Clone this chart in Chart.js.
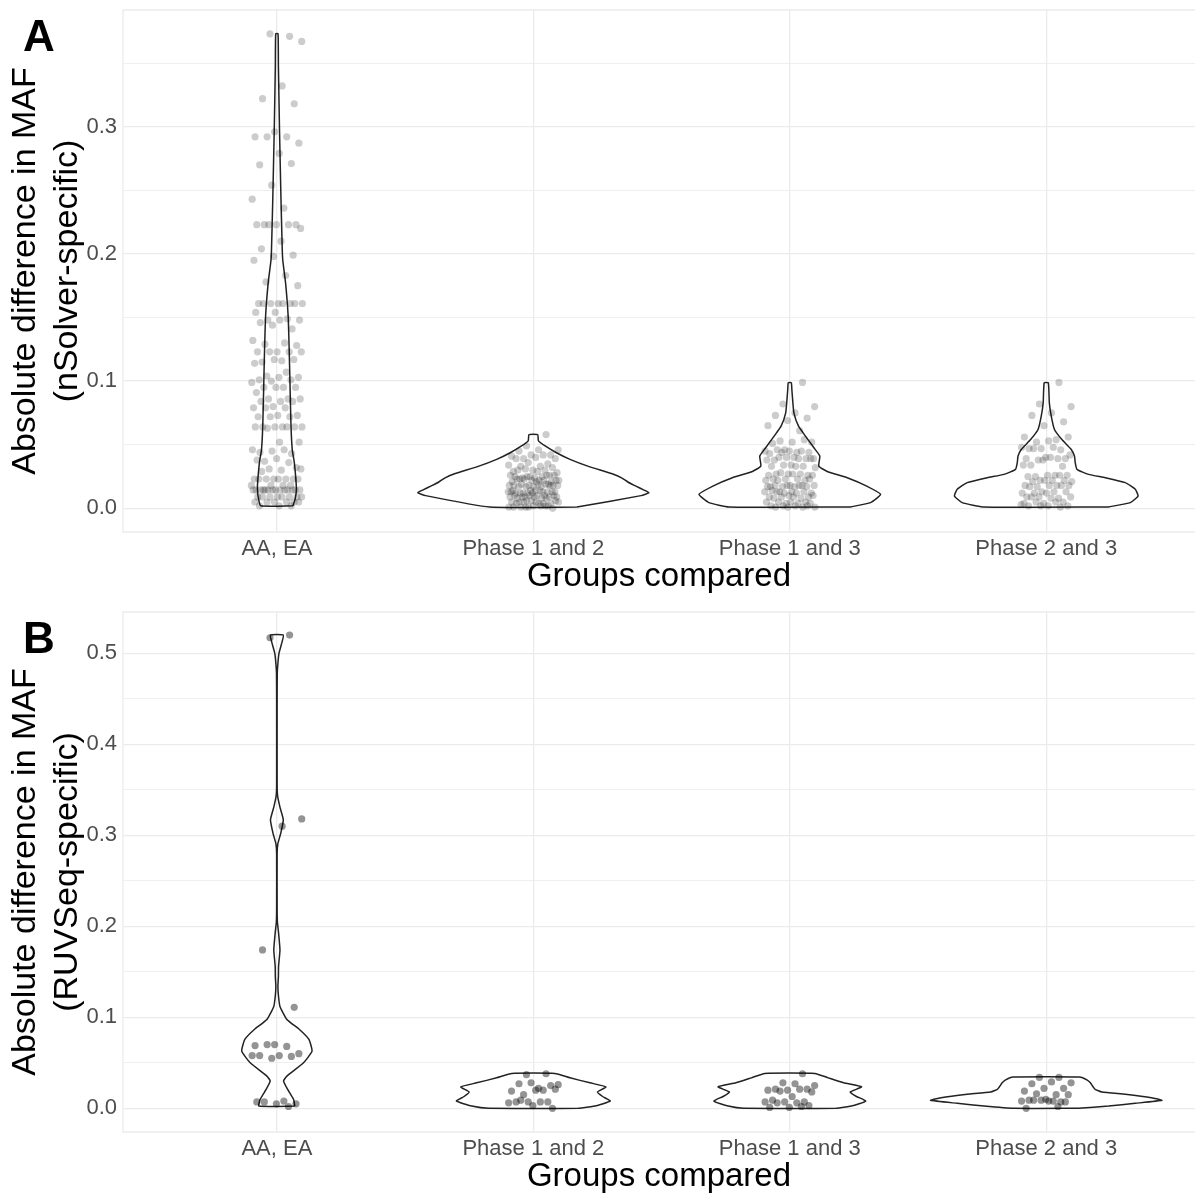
<!DOCTYPE html>
<html>
<head>
<meta charset="utf-8">
<script src="https://cdn.jsdelivr.net/npm/chart.js@4.4.1/dist/chart.umd.min.js"></script>
<style>
  body { margin:0; background:#fff; width:1195px; height:1197px; position:relative; overflow:hidden;
         font-family:"Liberation Sans", Arial, sans-serif; }
  .panel { position:absolute; left:0; width:1195px; height:598px; }
  .tag { position:absolute; left:23px; font-weight:bold; font-size:44px; line-height:44px; color:#000; }
</style>
</head>
<body>
<div class="panel" style="top:0"><canvas id="chartA" width="1195" height="598"></canvas></div>
<div class="panel" style="top:600px"><canvas id="chartB" width="1195" height="598"></canvas></div>
<div class="tag" style="top:14px">A</div>
<div class="tag" style="top:616px">B</div>
<script>
// categories and axis ticks
const categories = ['AA, EA', 'Phase 1 and 2', 'Phase 1 and 3', 'Phase 2 and 3'];
const yTicksA = [0, 0.1, 0.2, 0.3];
const yTicksB = [0, 0.1, 0.2, 0.3, 0.4, 0.5];
const yRangeA = [-0.0186, 0.3917];
const yRangeB = [-0.026, 0.5453];

// panel A jittered points (abs. difference in MAF, nSolver-specific)
const ptsA_aaea = [0.371,0.373,0.367,0.332,0.322,0.318,0.296,0.292,0.292,0.292,0.287,0.279,0.270,0.271,0.254,0.243,0.236,
  0.223,0.223,0.223,0.223,0.223,0.223,0.220,0.210,0.204,0.199,0.198,0.195,0.183,0.178,0.175,
  0.161,0.161,0.161,0.161,0.161,0.161,0.161,0.161,0.154,0.154,0.149,0.148,0.148,0.148,0.146,0.141,0.144,
  0.132,0.130,0.129,0.128,0.123,0.123,0.123,0.123,0.123,0.116,0.115,0.117,0.117,0.114,
  0.107,0.104,0.103,0.103,0.101,0.101,0.100,0.099,0.095,0.095,0.095,0.095,0.091,
  0.086,0.086,0.086,0.084,0.084,0.084,0.080,0.079,0.079,0.079,0.073,0.073,0.072,0.072,0.072,
  0.064,0.064,0.064,0.064,0.064,0.064,0.064,0.063,0.052,0.052,0.044,0.043,0.045,0.046,0.046,
  0.037,0.032,0.039,0.038,0.036,0.031,0.031,0.030,0.029,
  0.023,0.023,0.023,0.023,0.023,0.023,0.023,0.023,0.018,0.018,0.018,0.018,
  0.0145,0.0145,0.0145,0.0145,0.0145,0.0145,0.0145,0.0145,0.0145,0.0145,0.0145,0.0145,0.0145,0.0145,
  0.009,0.009,0.009,0.009,0.009,0.009,0.009,0.009,0.005,0.005,0.005,0.005,0.005,0.005,0.002,0.002,0.002];
const ptsA_p12 = [0.058,0.049,0.046,0.046,0.045,0.042,0.042,0.041,0.042,0.039,0.039,0.040,0.039,
  0.035,0.036,0.034,0.033,0.033,0.032,0.030,0.029,0.030,0.031,0.028,0.029,0.030,
  0.026,0.025,0.026,0.025,0.024,0.026,0.024,0.025,0.026,0.025,
  0.022,0.022,0.023,0.021,0.022,0.021,0.022,0.023,0.022,0.021,0.023,
  0.019,0.018,0.018,0.017,0.019,0.018,0.017,0.018,0.019,0.017,0.018,0.019,0.017,0.018,
  0.014,0.013,0.013,0.012,0.013,0.014,0.012,0.013,0.012,0.013,0.014,0.012,0.013,0.012,0.014,
  0.010,0.009,0.009,0.010,0.008,0.009,0.010,0.009,0.008,0.009,0.010,0.009,0.010,0.008,
  0.006,0.005,0.004,0.005,0.004,0.006,0.005,0.004,0.005,0.006,0.005,0.004,
  0.002,0.001,0.001,0.002,0.001,0.000,0.002,0.001,0.002,0.001];
const ptsA_p13 = [0.099,0.082,0.080,0.075,0.073,0.071,0.069,0.065,0.061,0.053,0.052,0.052,0.051,0.054,
  0.046,0.045,0.044,0.046,0.044,0.045,0.043,0.045,0.044,0.039,0.040,0.038,0.039,0.040,0.038,0.039,0.040,0.039,
  0.034,0.033,0.033,0.034,0.032,0.033,0.027,0.026,0.027,0.026,0.027,0.028,0.026,0.027,
  0.023,0.022,0.023,0.022,0.023,0.022,0.023,0.018,0.017,0.018,0.017,0.018,0.017,0.018,0.017,0.018,0.017,0.018,
  0.013,0.012,0.013,0.014,0.013,0.012,0.013,0.012,0.013,0.009,0.010,0.009,0.008,0.009,0.010,0.009,0.008,
  0.005,0.004,0.005,0.004,0.005,0.004,0.005,0.002,0.001,0.002,0.001,0.002,0.001,0.002,0.001];
const ptsA_p23 = [0.099,0.082,0.080,0.075,0.073,0.068,0.065,0.056,0.054,0.052,0.056,0.053,
  0.047,0.046,0.047,0.048,0.048,0.047,0.039,0.040,0.039,0.039,0.038,0.042,0.040,0.034,0.033,0.038,0.034,
  0.026,0.025,0.026,0.026,0.025,0.026,0.022,0.021,0.022,0.021,0.022,0.022,
  0.018,0.018,0.017,0.018,0.018,0.017,0.018,0.013,0.012,0.013,0.012,0.013,0.012,
  0.009,0.008,0.009,0.009,0.008,0.009,0.005,0.004,0.004,0.005,0.005,0.002,0.002,0.002,0.001,0.002,0.003];

// panel B jittered points (abs. difference in MAF, RUVSeq-specific)
const ptsB_aaea = [0.520,0.517,0.318,0.310,0.174,0.111,0.070,0.069,0.068,0.070,0.060,0.058,0.058,0.057,0.055,0.058,
  0.008,0.007,0.005,0.005,0.007,0.002];
const ptsB_p12 = [0.038,0.037,0.026,0.022,0.027,0.025,0.028,0.019,0.020,0.015,0.021,0.020,0.007,0.007,0.007,0.006,
  0.007,0.009,0.000,0.003];
const ptsB_p13 = [0.038,0.028,0.025,0.027,0.021,0.021,0.020,0.020,0.021,0.019,0.018,0.013,0.009,0.007,0.007,0.007,
  0.006,0.006,0.003,0.001,0.001,0.002];
const ptsB_p23 = [0.034,0.034,0.028,0.029,0.027,0.022,0.022,0.019,0.015,0.016,0.015,0.008,0.009,0.007,0.009,0.008,
  0.008,0.009,0.007,0.010,0.000,0.002];

// violin profiles: density heights (y) and half widths (in category units)
const vA1Y = [0.002,0.008,0.015,0.023,0.036,0.046,0.065,0.099,0.125,0.151,0.177,0.195,0.203,0.243,0.295,0.347,0.373];
const vA1W = [0.063,0.072,0.076,0.074,0.068,0.060,0.055,0.051,0.048,0.044,0.034,0.023,0.021,0.016,0.0105,0.006,0.0045];
const vA2Y = [0.001,0.010,0.0123,0.0145,0.0175,0.0205,0.024,0.027,0.033,0.0385,0.0437,0.049,0.053,0.058];
const vA2W = [0.17,0.42,0.451,0.43,0.40,0.37,0.344,0.31,0.215,0.143,0.09,0.046,0.02,0.017];
const vA3Y = [0.0011,0.0045,0.011,0.0175,0.0241,0.029,0.0332,0.0411,0.0476,0.0568,0.0646,0.0751,0.0856,0.0934,0.0987];
const vA3W = [0.237,0.315,0.354,0.30,0.224,0.146,0.113,0.117,0.094,0.061,0.034,0.016,0.011,0.008,0.006];
const vA4Y = [0.0011,0.0045,0.0097,0.015,0.0202,0.0241,0.0267,0.0306,0.0359,0.0411,0.0463,0.0541,0.062,0.0725,0.0829,0.0987];
const vA4W = [0.243,0.328,0.358,0.347,0.308,0.23,0.165,0.12,0.113,0.11,0.0975,0.061,0.032,0.0195,0.012,0.008];

const vB1Y = [0.0025,0.0099,0.0208,0.030,0.0354,0.050,0.0628,0.0757,0.0866,0.0976,0.112,0.124,0.134,0.145,0.156,0.174,
  0.193,0.205,0.22,0.28,0.291,0.302,0.317,0.331,0.343,0.355,0.45,0.478,0.489,0.4996,0.509,0.520];
const vB1W = [0.07,0.065,0.042,0.026,0.039,0.104,0.137,0.125,0.088,0.039,0.012,0.006,0.004,0.006,0.0065,0.012,
  0.0065,0.002,0.001,0.001,0.004,0.015,0.025,0.012,0.003,0.001,0.001,0.0015,0.004,0.008,0.017,0.025];
const vB2Y = [0.0,0.0025,0.008,0.013,0.0179,0.0236,0.028,0.0335,0.0384];
const vB2W = [0.175,0.24,0.30,0.27,0.25,0.283,0.221,0.143,0.084];
const vB3Y = [0.0,0.0025,0.008,0.013,0.0179,0.0236,0.028,0.0335,0.0384];
const vB3W = [0.18,0.24,0.296,0.26,0.235,0.28,0.21,0.15,0.098];
const vB4Y = [0.0,0.0025,0.0055,0.0088,0.0117,0.0154,0.0179,0.021,0.028,0.031,0.0344];
const vB4W = [0.126,0.243,0.347,0.451,0.41,0.308,0.217,0.19,0.172,0.16,0.13];

const FONT = '"Liberation Sans", Arial, sans-serif';

function violinOutline(c, ys, ws){
  const right = ys.map((y,i)=>({x:c+ws[i], y}));
  const left = ys.map((y,i)=>({x:c-ws[i], y})).reverse();
  return [...right, ...left, right[0]];
}
// fixed (non random) jitter spread within +-0.1 of the category centre
function jitter(i){ return (((i+1)*0.6180339887 + 0.13) % 1 - 0.5) * 0.2; }
function jittered(c, vals){ return vals.map((v,i)=>({x:c+jitter(i), y:v})); }

// light panel outline: top, left and bottom edges (right edge runs past the picture)
const frame = {
  id:'frame',
  beforeDatasetsDraw(chart){
    const {ctx, chartArea:a, width} = chart;
    ctx.save();
    ctx.strokeStyle = '#EBEBEB'; ctx.lineWidth = 1.3;
    ctx.beginPath();
    ctx.moveTo(width, a.top); ctx.lineTo(a.left, a.top);
    ctx.lineTo(a.left, a.bottom); ctx.lineTo(width, a.bottom);
    ctx.stroke();
    ctx.restore();
  }
};

function makePanel(id, pts, violins, yTicks, yRange, subtitle, ptColor, padTop){
  const isMajor = v => yTicks.some(t => Math.abs(t-v) < 1e-9);
  const datasets = [];
  pts.forEach((vals,i)=>datasets.push({
    data: jittered(i+1, vals), pointRadius:3.6, pointHoverRadius:3.6,
    pointBackgroundColor: ptColor, pointBorderWidth:0, showLine:false, order:0
  }));
  violins.forEach(([ys,ws],i)=>datasets.push({
    data: violinOutline(i+1, ys, ws), showLine:true, pointRadius:0, borderColor:'#222',
    borderWidth:1.5, tension:0.15, fill:false, order:1
  }));
  return new Chart(document.getElementById(id), {
    type:'scatter',
    data:{ datasets },
    plugins:[frame],
    options:{
      responsive:false, animation:false,
      layout:{ autoPadding:false, padding:{ top:padTop, left:0, right:0, bottom:0 } },
      plugins:{ legend:{display:false}, tooltip:{enabled:false} },
      scales:{
        x:{
          type:'linear', min:0.4, max:4.58,
          afterBuildTicks: s => { s.ticks = categories.map((c,i)=>({value:i+1})); },
          afterFit: s => { s.height = 66; s.paddingLeft = 0; s.paddingRight = 0; },
          ticks:{ callback: v => categories[Math.round(v)-1], color:'#4D4D4D', padding:4,
                  font:{family:FONT, size:22}, autoSkip:false, maxRotation:0 },
          grid:{ color:'#EBEBEB', lineWidth:1.3, drawTicks:false },
          border:{ display:false },
          title:{ display:true, text:'Groups compared', color:'#000',
                  font:{family:FONT, size:33, lineHeight:1.2}, padding:{top:0, bottom:1} }
        },
        y:{
          type:'linear', min:yRange[0], max:yRange[1],
          afterBuildTicks: s => {
            const t = [];
            yTicks.forEach(v=>{ t.push({value:v}); const m = v + 0.05; if (m <= yRange[1]) t.push({value:m}); });
            s.ticks = t;
          },
          afterFit: s => { s.width = 123; s.paddingTop = 0; s.paddingBottom = 0; },
          ticks:{ callback: v => isMajor(v) ? v.toFixed(1) : '', color:'#4D4D4D', padding:6,
                  font:{family:FONT, size:22} },
          grid:{ color:'#EBEBEB', lineWidth: c => isMajor(c.tick.value) ? 1.3 : 0.8, drawTicks:false },
          border:{ display:false },
          title:{ display:true, text:['Absolute difference in MAF', subtitle], color:'#000',
                  font:{family:FONT, size:34, lineHeight:1.22}, padding:{top:5, bottom:0} }
        }
      }
    }
  });
}

makePanel('chartA', [ptsA_aaea, ptsA_p12, ptsA_p13, ptsA_p23],
  [[vA1Y,vA1W],[vA2Y,vA2W],[vA3Y,vA3W],[vA4Y,vA4W]],
  yTicksA, yRangeA, '(nSolver-specific)', 'rgba(0,0,0,0.2)', 10);
makePanel('chartB', [ptsB_aaea, ptsB_p12, ptsB_p13, ptsB_p23],
  [[vB1Y,vB1W],[vB2Y,vB2W],[vB3Y,vB3W],[vB4Y,vB4W]],
  yTicksB, yRangeB, '(RUVSeq-specific)', 'rgba(0,0,0,0.42)', 12);
</script>
</body>
</html>
